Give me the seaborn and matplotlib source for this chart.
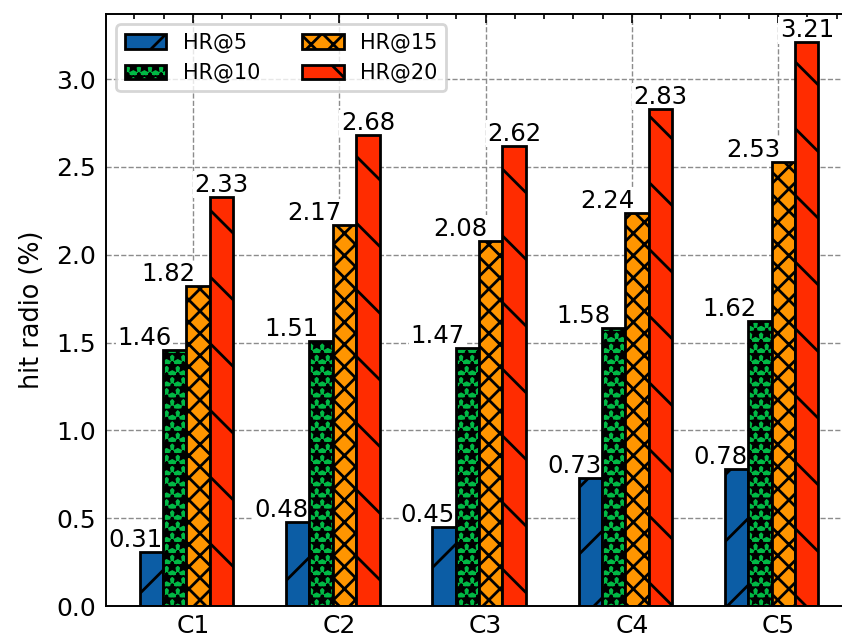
import numpy as np
import pandas as pd
import matplotlib
matplotlib.use("Agg")
import matplotlib.pyplot as plt
from matplotlib.ticker import MultipleLocator, AutoMinorLocator
import seaborn as sns

# data
groups = ['C1', 'C2', 'C3', 'C4', 'C5']
metrics = ['HR@5', 'HR@10', 'HR@15', 'HR@20']
hr5 = [0.31, 0.48, 0.45, 0.73, 0.78]
hr10 = [1.46, 1.51, 1.47, 1.58, 1.62]
hr15 = [1.82, 2.17, 2.08, 2.24, 2.53]
hr20 = [2.33, 2.68, 2.62, 2.83, 3.21]

colors = ['#0C5DA5', '#00B945', '#FF9500', '#FF2C00']
hatches = ['/', '***', 'xxx', '\\']
label_dx = [-0.11, -0.205, -0.205, 0.0]   # label offsets used in the original

df = pd.DataFrame({
    'group': groups * 4,
    'metric': np.repeat(metrics, len(groups)),
    'value': hr5 + hr10 + hr15 + hr20,
})

sns.set_style('white')
plt.rcParams['font.family'] = 'DejaVu Sans'
plt.rcParams['hatch.linewidth'] = 1.0
plt.rcParams['axes.axisbelow'] = True
for k in ['text.color', 'axes.labelcolor', 'xtick.color', 'ytick.color', 'axes.edgecolor']:
    plt.rcParams[k] = 'black'

fig = plt.figure(figsize=(4.21, 3.185), dpi=200)
ax = fig.add_axes([106 / 842, 31 / 637, 746 / 842, 592 / 637])

sns.barplot(data=df, x='group', y='value', hue='metric', hue_order=metrics,
            palette=colors, saturation=1, width=0.64, errorbar=None,
            edgecolor='black', linewidth=1.0, legend=False, ax=ax, zorder=2)

# shift bars, add hatches and value labels
for i, cont in enumerate(ax.containers):
    for bar in cont:
        bar.set_x(bar.get_x() - 0.044)
        bar.set_hatch(hatches[i])
        h = bar.get_height()
        ax.text(bar.get_x() + bar.get_width() / 2 + label_dx[i], h, f'{h:.2f}',
                ha='center', va='bottom', fontsize=8.8, zorder=1.5,
                bbox=dict(facecolor='white', edgecolor='none', pad=0.5))

ax.legend(ax.containers, metrics, loc='upper left', ncol=2, fontsize=7.5)

ax.set_xlim(-0.594, 4.505)
ax.set_ylim(0, 3.3705)
ax.yaxis.set_major_locator(MultipleLocator(0.5))
ax.yaxis.set_minor_locator(MultipleLocator(0.1))
ax.xaxis.set_minor_locator(AutoMinorLocator(5))
ax.tick_params(which='both', direction='in', top=True, right=True, width=0.6)
ax.tick_params(which='major', length=3.2, labelsize=9)
ax.tick_params(axis='x', which='major', pad=3.0)
ax.tick_params(which='minor', length=1.8)
for s in ax.spines.values():
    s.set_linewidth(0.7)

ax.grid(True, which='major', linestyle='--', color='#8c8c8c', linewidth=0.5)
ax.set_xlabel('')
ax.set_ylabel('hit radio (%)', fontsize=9.2)

fig.savefig('out.png', dpi=200)
